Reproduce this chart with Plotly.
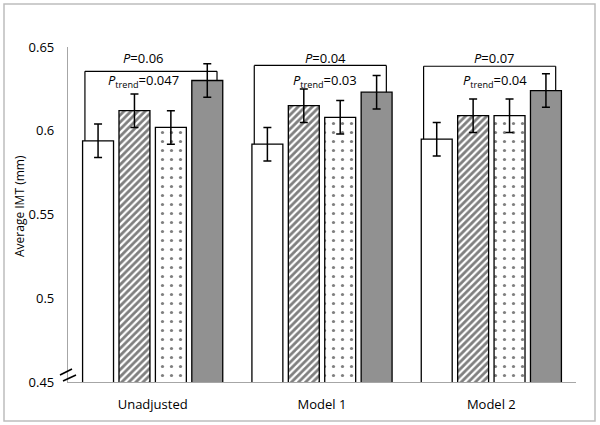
import plotly.graph_objects as go

groups = ["Unadjusted", "Model 1", "Model 2"]
q1 = [0.594, 0.592, 0.595]
q2 = [0.612, 0.615, 0.609]
q3 = [0.602, 0.608, 0.609]
q4 = [0.630, 0.623, 0.624]
err = [0.010, 0.010, 0.010]
p_text = ["0.06", "0.04", "0.07"]
ptrend_text = ["0.047", "0.03", "0.04"]
bracket_y = [0.6355, 0.639, 0.6385]
y_ticks = [0.45, 0.5, 0.55, 0.6, 0.65]

FONT = "Open Sans, Arial, sans-serif"
W, H = 508, 335  # plot area in px

series = [
    (q1, dict(color="white")),
    (q2, dict(color="white", pattern=dict(shape="/", size=5, solidity=0.55, fgcolor="black"))),
    (q3, dict(color="white", pattern=dict(shape=".", size=9, solidity=0.1, fgcolor="black"))),
    (q4, dict(color="#919191")),
]

fig = go.Figure()
for vals, mk in series:
    mk["line"] = dict(color="black", width=1.3)
    fig.add_trace(go.Bar(
        x=groups, y=vals, base=0, marker=mk,
        error_y=dict(type="data", array=err, color="black", thickness=1.5, width=4),
        showlegend=False, hoverinfo="skip",
    ))

# brackets and p-value labels
for i in range(3):
    xl, xr = i - 0.40, i + 0.38
    fig.add_shape(type="line", x0=xl, x1=xl, y0=q1[i], y1=bracket_y[i], line=dict(color="black", width=1.2))
    fig.add_shape(type="line", x0=xl, x1=xr, y0=bracket_y[i], y1=bracket_y[i], line=dict(color="black", width=1.2))
    fig.add_shape(type="line", x0=xr, x1=xr, y0=bracket_y[i], y1=q4[i], line=dict(color="black", width=1.2))
    xc = i + (-0.055 if i == 0 else 0.02)
    fig.add_annotation(x=xc, y=0.6435, text="<i>P</i>=" + p_text[i],
                       showarrow=False, font=dict(size=13, color="black", family=FONT))
    fig.add_annotation(x=xc, y=0.6295,
                       text="<i>P</i><sub>trend</sub>=" + ptrend_text[i],
                       showarrow=False, font=dict(size=13, color="black", family=FONT))

# axis break marks
for (xa, ya, xb, yb) in [(60, 375, 72, 369), (63, 381, 76, 375)]:
    fig.add_shape(type="line", xref="paper", yref="paper",
                  x0=(xa - 68) / W, x1=(xb - 68) / W, y0=(382 - ya) / H, y1=(382 - yb) / H,
                  line=dict(color="black", width=1.6))

# outer border
fig.add_shape(type="rect", xref="paper", yref="paper",
              x0=(4 - 68) / W, x1=(595 - 68) / W, y0=(382 - 421) / H, y1=(382 - 4) / H,
              line=dict(color="#bdbdbd", width=1.5))

# y axis title
fig.add_annotation(xref="paper", yref="paper", x=(19 - 68) / W, y=(382 - 206) / H,
                   xanchor="center", yanchor="middle",
                   text="Average IMT (mm)", textangle=-90, showarrow=False,
                   font=dict(size=12, color="black", family=FONT))

fig.update_layout(
    width=600, height=425,
    margin=dict(l=68, r=24, t=47, b=43),
    paper_bgcolor="white", plot_bgcolor="white",
    barmode="group", bargap=0.14, bargroupgap=0.15,
    font=dict(family=FONT, size=13, color="black"),
    xaxis=dict(range=[-0.5, 2.5], showline=True, linecolor="#a6a6a6", linewidth=1.3, ticks="",
               automargin=False, ticklabelstandoff=10, tickfont=dict(size=13), showgrid=False),
    yaxis=dict(range=[0.45, 0.65], tickvals=y_ticks, ticktext=["0.45", "0.5", "0.55", "0.6", "0.65"],
               showline=True, linecolor="#a6a6a6", linewidth=1.3, showgrid=False, zeroline=False,
               ticks="", ticklabelstandoff=10, tickfont=dict(size=13), automargin=False),
)

fig.write_html("out.html", config={"displayModeBar": False},
               post_script="document.body.style.margin='0';")
